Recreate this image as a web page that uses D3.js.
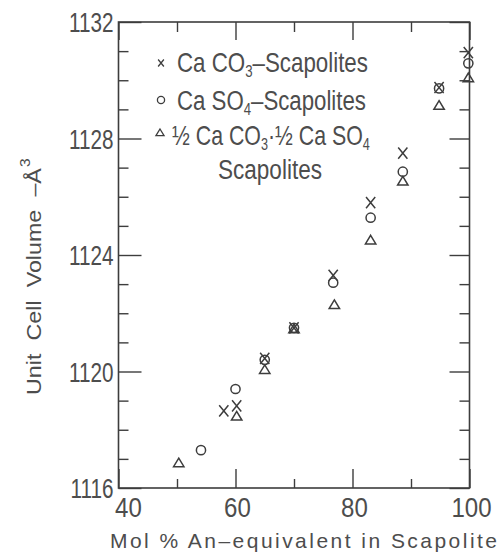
<!DOCTYPE html>
<html>
<head>
<meta charset="utf-8">
<script src="https://cdn.jsdelivr.net/npm/d3@7"></script>
<style>
  body { margin: 0; background: #fff; }
  text { font-family: "Liberation Sans", Arial, sans-serif; fill: #4d4d4d; }
</style>
</head>
<body>
<div id="chart"></div>
<script>
// chart data
const carbonateX = [58, 60.2, 65, 70, 76.7, 83.1, 88.6, 94.8, 99.8];
const carbonateY = [1118.65, 1118.82, 1120.45, 1121.5, 1123.3, 1125.8, 1127.5, 1129.75, 1130.95];

const sulfateX = [54.1, 60, 65, 70, 76.7, 83.1, 88.6, 94.8, 99.8];
const sulfateY = [1117.3, 1119.4, 1120.4, 1121.5, 1123.05, 1125.28, 1126.86, 1129.72, 1130.58];

const mixedX = [50.3, 60.2, 65, 70, 76.9, 83.1, 88.6, 94.8, 99.8];
const mixedY = [1116.85, 1118.45, 1120.05, 1121.45, 1122.28, 1124.5, 1126.52, 1129.12, 1130.07];

const xMajor = [40, 60, 80, 100];
const xMinor = [50, 70, 90];
const yMajor = [1116, 1120, 1124, 1128, 1132];
const yMinor = [1117, 1118, 1119, 1121, 1122, 1123, 1125, 1126, 1127, 1129, 1130, 1131];

const xLabel = 'Mol % An\u2013equivalent in Scapolite';
const legendLabels = [
  [['Ca CO', 0], ['3', 1], ['\u2013Scapolites', 0]],
  [['Ca SO', 0], ['4', 1], ['\u2013Scapolites', 0]],
  [['\u00BD Ca CO', 0], ['3', 1], ['\u00B7\u00BD Ca SO', 0], ['4', 1]],
  [['Scapolites', 0]]
];
const legendTypes = ['x', 'o', 't', null];

// size
const W = 502, H = 556;
const margin = {top: 22, right: 32.5, bottom: 68, left: 118.5},
    width = W - margin.left - margin.right,
    height = H - margin.top - margin.bottom;
const ink = '#3d3d3d';

const x = d3.scaleLinear().domain([40, 100]).range([0, width]);
const y = d3.scaleLinear().domain([1116, 1132]).range([height, 0]);

const svgRoot = d3.select('#chart').append('svg')
    .attr('width', W)
    .attr('height', H);
const svg = svgRoot.append('g')
    .attr('transform', `translate(${margin.left},${margin.top})`);

// marker shapes
function markerPath(type, s) {
  if (type === 'x') {
    const w = 4.6 * s, h = 5.6 * s;
    return `M${-w},${-h}L${w},${h}M${w},${-h}L${-w},${h}`;
  }
  if (type === 'o') {
    const r = 4.6 * s;
    return `M${r},0A${r},${r} 0 1,1 ${-r},0A${r},${r} 0 1,1 ${r},0Z`;
  }
  const w = 5.2 * s, h = 8.6 * s;
  return `M0,${-h * 0.6}L${w},${h * 0.4}L${-w},${h * 0.4}Z`;
}

// ticks, pointing inward
function tickAxis(axis, values, size, tx, ty) {
  const g = svg.append('g')
      .attr('transform', `translate(${tx},${ty})`)
      .call(axis.tickValues(values).tickSize(size).tickFormat(''));
  g.select('.domain').remove();
  g.selectAll('line').attr('stroke', ink).attr('stroke-width', 1.4);
  return g;
}
tickAxis(d3.axisLeft(y), yMajor, -23, 0, 0);
tickAxis(d3.axisLeft(y), yMinor, -10, 0, 0);
tickAxis(d3.axisRight(y), yMajor, -20, width, 0);
tickAxis(d3.axisRight(y), yMinor, -10, width, 0);
tickAxis(d3.axisBottom(x), xMajor, -19, 0, height);
tickAxis(d3.axisBottom(x), xMinor, -9, 0, height);
tickAxis(d3.axisTop(x), xMajor, -18, 0, 0);
tickAxis(d3.axisTop(x), xMinor, -10, 0, 0);

// frame
svg.append('rect')
    .attr('width', width)
    .attr('height', height)
    .attr('fill', 'none')
    .attr('stroke', ink)
    .attr('stroke-width', 1.6);

// tick labels
svg.append('g').selectAll('text')
  .data(yMajor)
  .join('text')
    .attr('font-size', 28)
    .attr('text-anchor', 'end')
    .attr('dy', '0.36em')
    .attr('transform', d => `translate(-5,${y(d)}) scale(0.74,1)`)
    .text(d => d);

svg.append('g').selectAll('text')
  .data(xMajor)
  .join('text')
    .attr('font-size', 28)
    .attr('text-anchor', 'middle')
    .attr('transform', d => `translate(${x(d) + (d === 40 ? 10 : 2)},${height + 29}) scale(0.86,1)`)
    .text(d => d);

// axis titles
svg.append('text')
    .attr('font-size', 21)
    .attr('x', 110 - margin.left)
    .attr('y', 548 - margin.top)
    .attr('textLength', 387)
    .attr('lengthAdjust', 'spacing')
    .text(xLabel);

const yTitle = svgRoot.append('g');
const yText = yTitle.append('text')
    .attr('font-size', 21)
    .style('word-spacing', '6px');
yText.append('tspan').text('Unit Cell Volume \u2013\u00C5');
yText.append('tspan').attr('font-size', 14).attr('dy', -11).attr('dx', 1).text('3');
const yLen = yText.node().getBBox().width;
yTitle.attr('transform', `translate(41,395) rotate(-90) scale(${237 / yLen},1)`);

// legend
const legendRows = [
  {mx: 161, my: 63, tx: 177, ty: 72, w: 191},
  {mx: 161, my: 100, tx: 177, ty: 110, w: 189},
  {mx: 160, my: 133, tx: 172, ty: 145, w: 198},
  {mx: 0, my: 0, tx: 218, ty: 179, w: 104}
];
const legend = svgRoot.append('g');
legendLabels.forEach((parts, i) => {
  const r = legendRows[i];
  if (legendTypes[i]) {
    legend.append('path')
        .attr('d', markerPath(legendTypes[i], legendTypes[i] === 'x' ? 0.62 : 0.78))
        .attr('transform', `translate(${r.mx},${r.my})`)
        .attr('fill', 'none')
        .attr('stroke', ink)
        .attr('stroke-width', 1.3);
  }
  const g = legend.append('g');
  const t = g.append('text').attr('font-size', 27);
  let shift = 0;
  parts.forEach(([s, sub]) => {
    const dy = sub ? 5 - shift : -shift;
    shift = sub ? 5 : 0;
    t.append('tspan')
        .attr('dy', dy)
        .attr('font-size', sub ? 16 : 27)
        .text(s);
  });
  const len = t.node().getBBox().width;
  g.attr('transform', `translate(${r.tx},${r.ty}) scale(${r.w / len},1)`);
});

// data points
const series = [
  {type: 't', xs: mixedX, ys: mixedY},
  {type: 'o', xs: sulfateX, ys: sulfateY},
  {type: 'x', xs: carbonateX, ys: carbonateY}
];
series.forEach(s => {
  svg.append('g').selectAll('path')
    .data(s.xs.map((v, i) => [v, s.ys[i]]))
    .join('path')
      .attr('d', markerPath(s.type, 1))
      .attr('transform', d => `translate(${x(d[0])},${y(d[1])})`)
      .attr('fill', 'none')
      .attr('stroke', ink)
      .attr('stroke-width', 1.5);
});
</script>
</body>
</html>
